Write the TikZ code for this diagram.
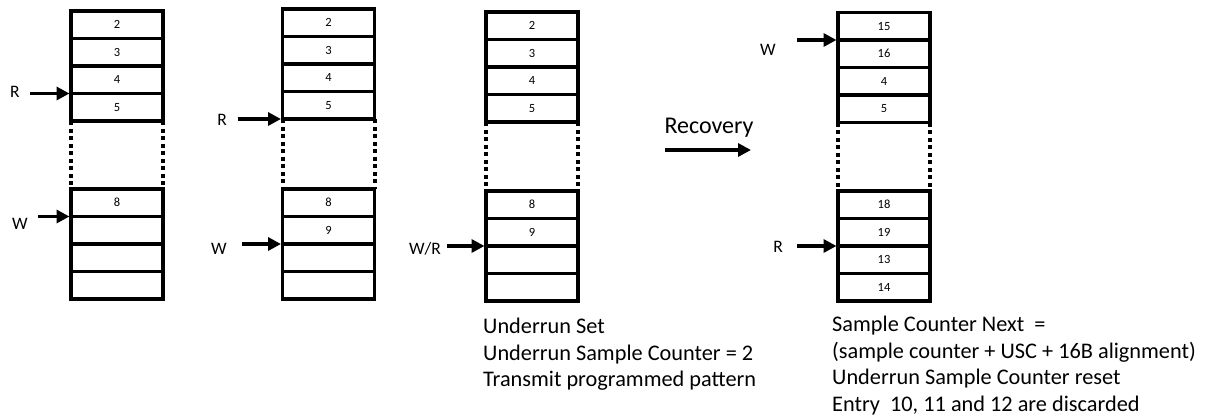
\documentclass[tikz,border=0pt]{standalone}
\usepackage{fontspec}
\setmainfont{Carlito}
\usepackage{tikz}
\usetikzlibrary{arrows.meta}

\begin{document}
\begin{tikzpicture}[x=1pt, y=-1pt]
		\tikzset{cell/.style={shape = rectangle, draw, line width = 3.5pt, outer sep = 0pt, minimum width = 92pt, minimum height = 27.5pt, inner sep = 0pt, font = \fontsize{12.5}{12.5}\selectfont}}
		\tikzset{ptr/.style={-{Triangle[length = 13pt, width = 13pt]}, line width = 3.5pt, shorten > = 1.5pt}}
		\tikzset{gap/.style={line width = 4pt, dash pattern = on 4pt off 3.5pt}}
		\tikzset{tag/.style={font = \fontsize{17.5}{17.5}\selectfont, inner sep = 0pt}}
		\tikzset{note/.style={font = \fontsize{22.3}{26.5}\selectfont, align = left, anchor = north west, inner sep = 0pt}}
		\useasboundingbox (0, 0) rectangle (1213, 418);
		%buffers
		\foreach \v [count = \i] in {2, 3, 4, 5}
			\node[cell] (a\i) at (117, {11 + 27.5*(\i - 0.5)}) {\v};
		\foreach \v [count = \i] in {8, {}, {}, {}}
			\node[cell] (b\i) at (117, {189 + 27.5*(\i - 0.5)}) {\v};
		\foreach \v [count = \i] in {2, 3, 4, 5}
			\node[cell] (c\i) at (328.5, {9 + 27.5*(\i - 0.5)}) {\v};
		\foreach \v [count = \i] in {8, 9, {}, {}}
			\node[cell] (d\i) at (328.5, {189 + 27.5*(\i - 0.5)}) {\v};
		\foreach \v [count = \i] in {2, 3, 4, 5}
			\node[cell] (e\i) at (532, {12 + 27.5*(\i - 0.5)}) {\v};
		\foreach \v [count = \i] in {8, 9, {}, {}}
			\node[cell] (f\i) at (532, {191 + 27.5*(\i - 0.5)}) {\v};
		\foreach \v [count = \i] in {15, 16, 4, 5}
			\node[cell] (g\i) at (884, {12.5 + 27.5*(\i - 0.5)}) {\v};
		\foreach \v [count = \i] in {18, 19, 13, 14}
			\node[cell] (h\i) at (884, {191 + 27.5*(\i - 0.5)}) {\v};
		%gaps
		\draw[gap] (a4.south west) -- (b1.north west);
		\draw[gap] (a4.south east) -- (b1.north east);
		\draw[gap] (c4.south west) -- (d1.north west);
		\draw[gap] (c4.south east) -- (d1.north east);
		\draw[gap] (e4.south west) -- (f1.north west);
		\draw[gap] (e4.south east) -- (f1.north east);
		\draw[gap] (g4.south west) -- (h1.north west);
		\draw[gap] (g4.south east) -- (h1.north east);
		%pointers
		\node[tag] (r1) at (15, 92) {R};
		\node[tag] (w1) at (20, 224) {W};
		\node[tag] (r2) at (222, 120) {R};
		\node[tag] (w2) at (219, 249) {W};
		\node[tag] (wr3) at (425, 249) {W/R};
		\node[tag] (w4) at (768, 50) {W};
		\node[tag] (r4) at (778, 247) {R};
		\coordinate (r1t) at ([xshift = -41pt]a3.south west);
		\coordinate (w1t) at ([xshift = -33pt]b1.south west);
		\coordinate (r2t) at ([xshift = -45pt]c4.south west);
		\coordinate (w2t) at ([xshift = -41pt]d2.south west);
		\coordinate (wr3t) at ([xshift = -39pt]f2.south west);
		\coordinate (w4t) at ([xshift = -41pt]g1.south west);
		\coordinate (r4t) at ([xshift = -41pt]h2.south west);
		\draw[ptr] (r1t) -- (a3.south west);
		\draw[ptr] (w1t) -- (b1.south west);
		\draw[ptr] (r2t) -- (c4.south west);
		\draw[ptr] (w2t) -- (d2.south west);
		\draw[ptr] (wr3t) -- (f2.south west);
		\draw[ptr] (w4t) -- (g1.south west);
		\draw[ptr] (r4t) -- (h2.south west);
		%recovery
		\coordinate (rec1) at (665, 150);
		\coordinate (rec2) at (751, 150);
		\draw[ptr, shorten > = 0pt] (rec1) -- (rec2);
		\node[font = \fontsize{24}{24}\selectfont, inner sep = 0pt] (rec) at (709, 128) {Recovery};
		%notes
		\node[note] (n1) at (483, 318) {Underrun Set\\Underrun Sample Counter = 2\\Transmit programmed pattern};
		\node[note] (n2) at (832, 316) {Sample Counter Next\ \ =\\(sample counter + USC + 16B alignment)\\Underrun Sample Counter reset\\Entry\ \ 10, 11 and 12 are discarded};
\end{tikzpicture}
\end{document}
